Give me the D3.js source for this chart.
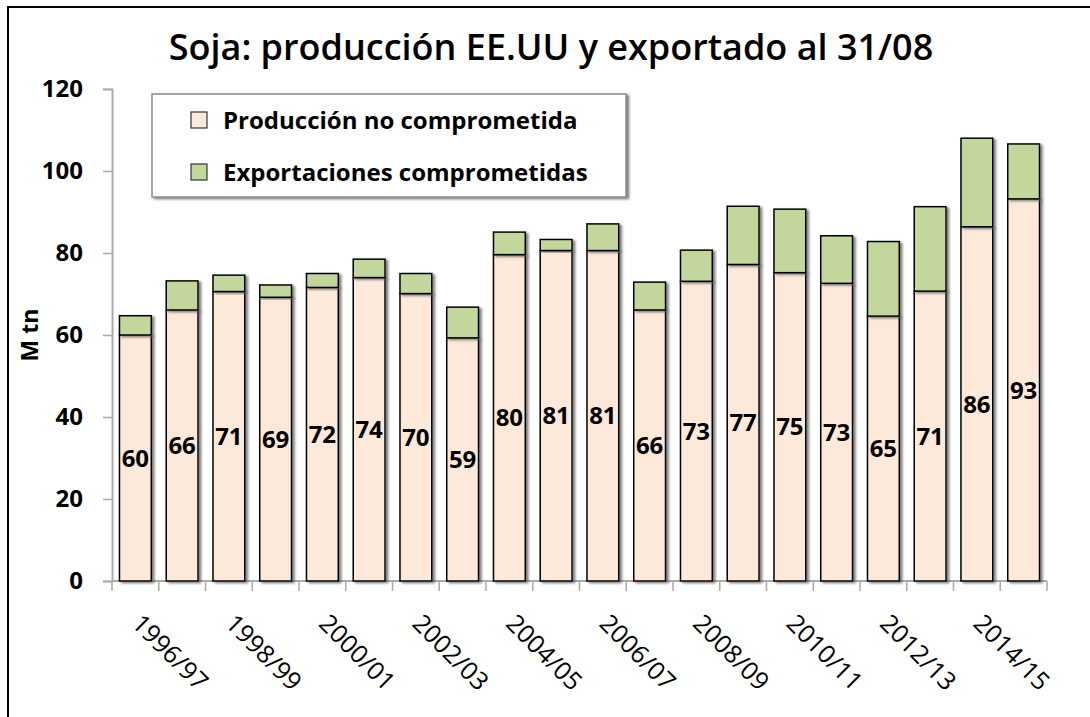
<!DOCTYPE html>
<html>
<head>
<meta charset="utf-8">
<script src="https://cdn.jsdelivr.net/npm/d3@7"></script>
<style>
  html, body { margin: 0; padding: 0; background: #fff; }
  svg text { font-family: "Open Sans", "Noto Sans", sans-serif; fill: #000; }
</style>
</head>
<body>
<script>
/** Declare constants */
const width = 1090;
const height = 717;

const seasons = ["1996/97", "1997/98", "1998/99", "1999/00", "2000/01", "2001/02", "2002/03", "2003/04", "2004/05", "2005/06",
    "2006/07", "2007/08", "2008/09", "2009/10", "2010/11", "2011/12", "2012/13", "2013/14", "2014/15", "2015/16"];
// producción no comprometida (M tn)
const produccion = [60.0, 66.1, 70.6, 69.2, 71.6, 74.0, 70.1, 59.3, 79.6, 80.6,
    80.6, 66.1, 73.1, 77.2, 75.2, 72.6, 64.6, 70.7, 86.4, 93.2];
// exportaciones comprometidas al 31/08 (M tn)
const exportaciones = [4.7, 7.1, 4.0, 3.0, 3.4, 4.5, 4.9, 7.5, 5.5, 2.7,
    6.5, 6.8, 7.6, 14.2, 15.5, 11.6, 18.2, 20.6, 21.6, 13.4];
const yTicks = [0, 20, 40, 60, 80, 100, 120];
const seriesNames = ["Producción no comprometida", "Exportaciones comprometidas"];
const colors = ["#FDE9D9", "#C3D69B"];

var svg, x_scale, y_scale;

function generateScale() {
    x_scale = d3.scaleBand()
        .domain(seasons)
        .range([112, 1047])
        .paddingInner(0.32)
        .paddingOuter(0.16);
    y_scale = d3.scaleLinear()
        .domain([0, 120])
        .range([581, 89]);
}

function generateAxis() {
    // y axis
    const y_axis = d3.axisLeft(y_scale).tickValues(yTicks).tickSize(9).tickPadding(20);
    const gy = svg.append("g")
        .attr("transform", "translate(112, 0)")
        .call(y_axis);
    gy.select(".domain").attr("stroke", "#ababab").attr("stroke-width", 2);
    gy.selectAll(".tick line").attr("stroke", "#ababab").attr("stroke-width", 1.5);
    gy.selectAll(".tick text")
        .style("font-size", "24px")
        .style("font-weight", "bold")
        .attr("fill", "#000");

    // x axis: ticks between categories, labels every other season
    const step = x_scale.step();
    const boundaries = d3.range(seasons.length + 1).map(i => x_scale.range()[0] + i * step);
    const gx = svg.append("g");
    gx.append("line")
        .attr("x1", boundaries[0]).attr("x2", boundaries[boundaries.length - 1])
        .attr("y1", y_scale(0)).attr("y2", y_scale(0))
        .attr("stroke", "#ababab").attr("stroke-width", 2);
    gx.selectAll(".xt")
        .data(boundaries)
        .enter()
        .append("line")
        .attr("class", "xt")
        .attr("x1", d => d).attr("x2", d => d)
        .attr("y1", y_scale(0)).attr("y2", y_scale(0) + 10)
        .attr("stroke", "#ababab").attr("stroke-width", 1.5);
    gx.selectAll(".xl")
        .data(seasons.filter((s, i) => i % 2 === 0))
        .enter()
        .append("text")
        .attr("class", "xl")
        .attr("transform", d => "translate(" + (x_scale(d) + x_scale.bandwidth() / 2 - 5) + "," + 625 + ") rotate(45)")
        .style("font-size", "25px")
        .text(d => d);

    svg.append("text")
        .attr("transform", "translate(38, 335) rotate(-90)")
        .attr("text-anchor", "middle")
        .style("font-size", "23px")
        .style("font-weight", "bold")
        .text("M tn");
}

function generateBars() {
    const rows = seasons.map((s, i) => ({ season: s, prod: produccion[i], exp: exportaciones[i] }));
    const stack = d3.stack().keys(["prod", "exp"])(rows);

    const layers = svg.selectAll(".layer")
        .data(stack)
        .enter()
        .append("g")
        .attr("class", "layer")
        .attr("fill", (d, i) => colors[i]);

    layers.selectAll("rect")
        .data(d => d)
        .enter()
        .append("rect")
        .attr("x", d => x_scale(d.data.season))
        .attr("y", d => y_scale(d[1]))
        .attr("width", x_scale.bandwidth())
        .attr("height", d => y_scale(d[0]) - y_scale(d[1]))
        .attr("stroke", "#000")
        .attr("stroke-width", 1.5)
        .attr("filter", "url(#shadow)");

    svg.selectAll(".vlabel")
        .data(rows)
        .enter()
        .append("text")
        .attr("class", "vlabel")
        .attr("x", d => x_scale(d.season) + x_scale.bandwidth() / 2)
        .attr("y", d => y_scale(d.prod / 2))
        .attr("dy", "0.36em")
        .attr("text-anchor", "middle")
        .style("font-size", "24px")
        .style("font-weight", "bold")
        .text(d => Math.round(d.prod));
}

function generateLegend() {
    const legend = svg.append("g");
    legend.append("rect")
        .attr("x", 152).attr("y", 94)
        .attr("width", 474).attr("height", 103)
        .attr("fill", "#fff")
        .attr("stroke", "#8c8c8c")
        .attr("stroke-width", 1.5)
        .attr("filter", "url(#shadow)");
    seriesNames.forEach((name, i) => {
        const cy = 120 + i * 52;
        legend.append("rect")
            .attr("x", 191).attr("y", cy - 8)
            .attr("width", 16).attr("height", 16)
            .attr("fill", colors[i])
            .attr("stroke", "#333")
            .attr("stroke-width", 1.2);
        legend.append("text")
            .attr("x", 223).attr("y", cy)
            .attr("dy", "0.36em")
            .style("font-size", "24px")
            .style("font-weight", "bold")
            .text(name);
    });
}

document.addEventListener("DOMContentLoaded", function () {
    svg = d3.select("body")
        .append("svg")
        .attr("width", width)
        .attr("height", height);

    const defs = svg.append("defs");
    const f = defs.append("filter").attr("id", "shadow")
        .attr("x", "-20%").attr("y", "-20%").attr("width", "140%").attr("height", "140%");
    f.append("feDropShadow")
        .attr("dx", 2.5).attr("dy", 1.5).attr("stdDeviation", 0.8)
        .attr("flood-color", "#555").attr("flood-opacity", 0.75);

    // outer frame
    svg.append("rect")
        .attr("x", 8).attr("y", 7)
        .attr("width", width + 20).attr("height", height + 20)
        .attr("fill", "none")
        .attr("stroke", "#000")
        .attr("stroke-width", 2);

    svg.append("text")
        .attr("x", 551).attr("y", 60)
        .attr("text-anchor", "middle")
        .style("font-size", "36px")
        .style("font-weight", 600)
        .text("Soja: producción EE.UU y exportado al 31/08");

    generateScale();
    generateAxis();
    generateBars();
    generateLegend();
});
</script>
</body>
</html>
